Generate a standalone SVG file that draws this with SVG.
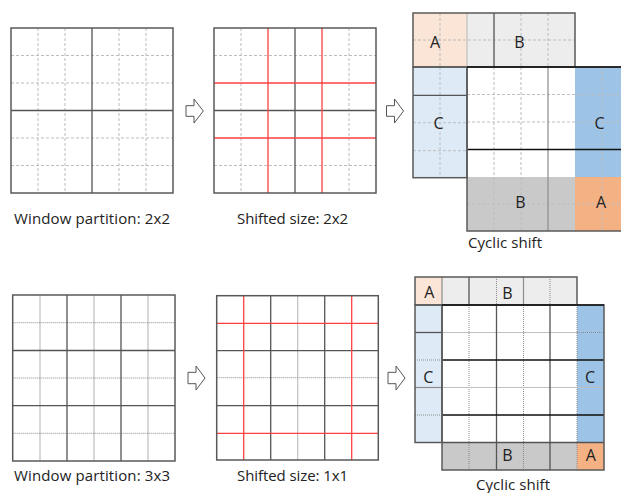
<svg xmlns="http://www.w3.org/2000/svg" width="621" height="493" viewBox="0 0 621 493">
<style>
  .bg{fill:#ffffff}
  .border{fill:none;stroke:#595959;stroke-width:1.5}
  .solid{stroke:#555555;stroke-width:1.3;fill:none}
  .black{stroke:#111111;stroke-width:1.3;fill:none}
  .mid{stroke:#8c8c8c;stroke-width:1.2;fill:none}
  .light{stroke:#bfbfbf;stroke-width:1.2;fill:none}
  .dash{stroke:#bdbdbd;stroke-width:1;stroke-dasharray:3 2;fill:none}
  .dot{stroke:#8a8a8a;stroke-width:1;stroke-dasharray:1 1;fill:none}
  .red{stroke:#ff4040;stroke-width:1.3;fill:none}
  .arrow{fill:#ffffff;stroke:#555555;stroke-width:1}
  .cap{font-family:"Open Sans","Noto Sans",sans-serif;font-size:15px;fill:#222222}
  .lbl{font-family:"Open Sans","Noto Sans",sans-serif;font-size:16px;fill:#222222;text-anchor:middle}
  .aL{fill:#fbe5d6}.bL{fill:#ededed}.cL{fill:#deebf7}
  .aD{fill:#f4b183}.bD{fill:#c9c9c9}.cD{fill:#9dc3e6}
</style>

<!-- ============ TOP ROW ============ -->
<g id="grid-window-2x2">
  <rect class="bg" x="11" y="28" width="162" height="165"/>
  <path class="dash" d="M38,28V193M65,28V193M119,28V193M146,28V193M11,55.5H173M11,83H173M11,138H173M11,165.5H173"/>
  <path class="solid" d="M92,28V193M11,110.5H173"/>
  <rect class="border" x="11" y="28" width="162" height="165"/>
  <text class="cap" x="14" y="223.5" textLength="156" lengthAdjust="spacing">Window partition: 2x2</text>
</g>

<g id="grid-shifted-2x2">
  <rect class="bg" x="214" y="28" width="162" height="165"/>
  <path class="dash" d="M241,28V193M349,28V193M214,55.5H376M214,165.5H376"/>
  <path class="solid" d="M295,28V193M214,110.5H376"/>
  <path class="red" d="M268,28V193M322,28V193M214,83H376M214,138H376"/>
  <rect class="border" x="214" y="28" width="162" height="165"/>
  <text class="cap" x="237" y="223.5" textLength="111" lengthAdjust="spacing">Shifted size: 2x2</text>
</g>

<g id="cyclic-shift-2x2">
  <rect class="aL" x="413" y="13" width="54" height="54"/>
  <rect class="bL" x="467" y="13" width="108" height="54"/>
  <rect class="cL" x="413" y="67" width="54" height="110.7"/>
  <rect class="bg" x="467" y="67" width="108" height="110"/>
  <rect class="cD" x="575" y="67" width="50" height="110"/>
  <rect class="bD" x="467" y="177" width="108" height="54"/>
  <rect class="aD" x="575" y="177" width="50" height="54"/>
  <path class="dash" d="M440,13V67M521,13V67M548,13V67M413,40H575"/>
  <path class="dash" d="M440,67V177.7M413,122.7H467M413,150.7H467"/>
  <path class="dash" d="M494,67V231M521,67V231M602,67V231M467,94.5H621M467,122H621M467,204H621"/>
  <path class="light" d="M467,13V67"/>
  <path class="solid" d="M494,13V67M413,95.3H467"/>
  <path class="mid" d="M548,67V231"/>
  <path class="black" d="M467,149.5H621"/>
  <rect class="border" x="413" y="13" width="162" height="54"/>
  <rect class="border" x="413" y="67" width="54" height="110.7"/>
  <path class="border" d="M621,67H467V231H621"/>
  <path class="black" d="M467,67H621"/>
  <text class="lbl" x="435" y="47.5">A</text>
  <text class="lbl" x="519.5" y="47.5">B</text>
  <text class="lbl" x="438.5" y="129">C</text>
  <text class="lbl" x="599.5" y="129">C</text>
  <text class="lbl" x="520.5" y="207.5">B</text>
  <text class="lbl" x="601" y="207.5">A</text>
  <text class="cap" x="468" y="248" textLength="74" lengthAdjust="spacing">Cyclic shift</text>
</g>

<!-- ============ BOTTOM ROW ============ -->
<g id="grid-window-3x3">
  <rect class="bg" x="12.7" y="295" width="162.3" height="166"/>
  <path class="light" d="M40,295V461M94,295V461M148,295V461"/>
  <path class="dot" d="M12.7,322.7H175M12.7,378H175M12.7,433.3H175"/>
  <path class="solid" d="M67,295V461M121,295V461M12.7,350.5H175M12.7,405.7H175"/>
  <rect class="border" x="12.7" y="295" width="162.3" height="166"/>
  <text class="cap" x="14" y="480.5" textLength="156" lengthAdjust="spacing">Window partition: 3x3</text>
</g>

<g id="grid-shifted-1x1">
  <rect class="bg" x="216.7" y="295.7" width="161.6" height="164.3"/>
  <path class="light" d="M297.7,295.7V460"/>
  <path class="dot" d="M216.7,377.7H378.3"/>
  <path class="solid" d="M270.7,295.7V460M324.7,295.7V460M216.7,350.7H378.3M216.7,405.7H378.3"/>
  <path class="red" d="M243.7,295.7V460M351.7,295.7V460M216.7,323.3H378.3M216.7,433.3H378.3"/>
  <rect class="border" x="216.7" y="295.7" width="161.6" height="164.3"/>
  <text class="cap" x="237" y="480.5" textLength="111" lengthAdjust="spacing">Shifted size: 1x1</text>
</g>

<g id="cyclic-shift-3x3">
  <rect class="aL" x="415" y="277" width="27" height="28"/>
  <rect class="bL" x="442" y="277" width="135" height="28"/>
  <rect class="cL" x="415" y="305" width="27" height="137.5"/>
  <rect class="bg" x="442" y="305" width="135" height="137.5"/>
  <rect class="cD" x="577" y="305" width="27" height="137.5"/>
  <rect class="bD" x="442" y="442.5" width="135" height="27.5"/>
  <rect class="aD" x="577" y="442.5" width="27" height="27.5"/>
  <path class="mid" d="M442,277V305M523.5,277V305"/>
  <path class="dot" d="M496.5,277V305M550,277V305"/>
  <path class="solid" d="M469,277V305"/>
  <path class="dot" d="M415,360H442M415,415H442"/>
  <path class="mid" d="M415,387.5H442"/>
  <path class="solid" d="M415,332.5H442"/>
  <path class="dot" d="M469,305V470M523.5,305V470M577,305V470M577,332.5H604"/>
  <path class="light" d="M442,332.5H577M442,387.5H604"/>
  <path class="solid" d="M496.5,305V470M550,305V470"/>
  <path class="black" d="M442,360H604M442,415H604"/>
  <path class="solid" d="M442,442.5H604"/>
  <rect class="border" x="415" y="277" width="162" height="28"/>
  <rect class="border" x="415" y="305" width="27" height="137.5"/>
  <rect class="border" x="442" y="305" width="162" height="165"/>
  <path class="black" d="M442,305H604"/>
  <text class="lbl" x="429.3" y="297.5">A</text>
  <text class="lbl" x="507.3" y="299">B</text>
  <text class="lbl" x="428.3" y="382.5">C</text>
  <text class="lbl" x="590" y="382.5">C</text>
  <text class="lbl" x="507.3" y="461">B</text>
  <text class="lbl" x="590.7" y="461">A</text>
  <text class="cap" x="476" y="490" textLength="74" lengthAdjust="spacing">Cyclic shift</text>
</g>

<!-- ============ CONNECTORS ============ -->
<g id="connectors">
  <path class="arrow" d="M186,105.7H194V99L203.3,111L194,123V116.3H186Z"/>
  <path class="arrow" d="M386.5,105.7H394.5V99L403.5,111L394.5,123V116.3H386.5Z"/>
  <path class="arrow" d="M188,372.3H196V366L205,378L196,390V383.7H188Z"/>
  <path class="arrow" d="M388,372.3H396V366L405,378L396,390V383.7H388Z"/>
</g>
</svg>
